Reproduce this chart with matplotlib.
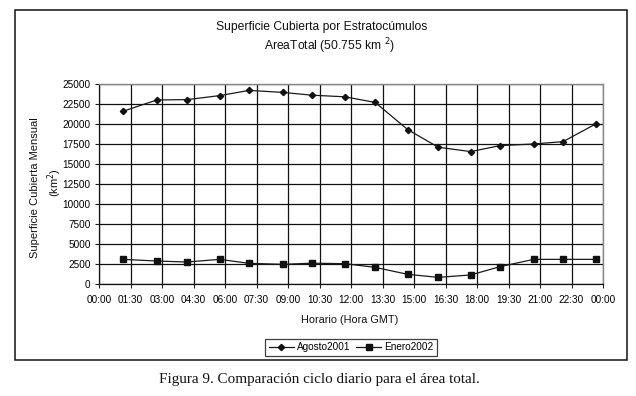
import matplotlib
matplotlib.use("Agg")
import matplotlib.pyplot as plt
from matplotlib.patches import Rectangle

W, H = 636, 396

# Data
tick_labels = ["00:00", "01:30", "03:00", "04:30", "06:00", "07:30", "09:00", "10:30",
               "12:00", "13:30", "15:00", "16:30", "18:00", "19:30", "21:00", "22:30", "00:00"]
tick_hours = [0, 1.5, 3, 4.5, 6, 7.5, 9, 10.5, 12, 13.5, 15, 16.5, 18, 19.5, 21, 22.5, 24]
obs_hours = [1.15, 2.75, 4.2, 5.75, 7.15, 8.75, 10.15, 11.7, 13.15, 14.7, 16.15, 17.7,
             19.1, 20.7, 22.1, 23.65]
agosto2001 = [21600, 23000, 23050, 23550, 24200, 23950, 23600, 23400, 22700, 19300,
              17100, 16550, 17300, 17500, 17800, 20000]
enero2002 = [3080, 2870, 2750, 3080, 2580, 2460, 2600, 2540, 2080, 1210, 830, 1130,
             2170, 3080, 3080, 3080]
y_ticks = [0, 2500, 5000, 7500, 10000, 12500, 15000, 17500, 20000, 22500, 25000]

plt.rcParams['font.family'] = ['Liberation Sans', 'DejaVu Sans']

fig = plt.figure(figsize=(W / 100, H / 100), dpi=100)

def fx(px):
    return px / W

def fy(py):
    return 1 - py / H

# outer border box
fig.patches.append(Rectangle((fx(15), fy(360)), fx(627) - fx(15), fy(10) - fy(360),
                             transform=fig.transFigure, fill=False, edgecolor='#111111',
                             linewidth=1.1))

ax = fig.add_axes([fx(99), fy(284), fx(603) - fx(99), fy(84) - fy(284)])
ax.set_xlim(0, 24)
ax.set_ylim(0, 25000)
ax.set_xticks(tick_hours)
ax.set_xticklabels(tick_labels)
ax.set_yticks(y_ticks)
ax.tick_params(axis='both', labelsize=7.2, length=3, width=0.8, color='#222222', pad=3)
ax.tick_params(axis='x', pad=5)
ax.grid(True, color='#111111', linewidth=0.9)
ax.set_axisbelow(True)
for side in ['top', 'right']:
    ax.spines[side].set_color('#888888')
    ax.spines[side].set_linewidth(1)
for side in ['left', 'bottom']:
    ax.spines[side].set_color('#111111')
    ax.spines[side].set_linewidth(0.9)

l1, = ax.plot(obs_hours, agosto2001, color='#1a1a1a', linewidth=0.9, marker='D',
              markersize=3.2, markerfacecolor='#111111', markeredgecolor='#111111',
              label='Agosto2001', clip_on=False)
l2, = ax.plot(obs_hours, enero2002, color='#1a1a1a', linewidth=0.9, marker='s',
              markersize=4, markerfacecolor='#111111', markeredgecolor='#111111',
              label='Enero2002', clip_on=False)

# titles
fig.text(fx(322), fy(27), "Superficie Cubierta por Estratocúmulos", ha='center',
         va='center', fontsize=8.7, color='#111111')
fig.text(fx(330), fy(46), "AreaTotal (50.755 km $^{2}$)", ha='center', va='center',
         fontsize=8.7, color='#111111')

# y label
fig.text(fx(35), fy(188), "Superficie Cubierta Mensual", rotation=90, ha='center',
         va='center', fontsize=8, color='#111111')
fig.text(fx(55), fy(183), "(km$^{2}$)", rotation=90, ha='center', va='center',
         fontsize=8, color='#111111')

# x label
fig.text(fx(350), fy(320), "Horario (Hora GMT)", ha='center', va='center',
         fontsize=7.8, color='#111111')

leg = fig.legend(handles=[l1, l2], loc='center', bbox_to_anchor=(fx(351), fy(347.5)),
                 ncol=2, fontsize=7.2, frameon=True, fancybox=False, handlelength=2.5,
                 handletextpad=0.3, columnspacing=0.6, borderpad=0.35,
                 markerscale=1.0)
leg.get_frame().set_edgecolor('#111111')
leg.get_frame().set_linewidth(0.9)

fig.text(fx(319), fy(380), "Figura 9. Comparación ciclo diario para el área total.",
         ha='center', va='center', fontsize=10.9, color='#111111',
         family=['Liberation Serif', 'DejaVu Serif'])

fig.savefig("out.png", dpi=100)
